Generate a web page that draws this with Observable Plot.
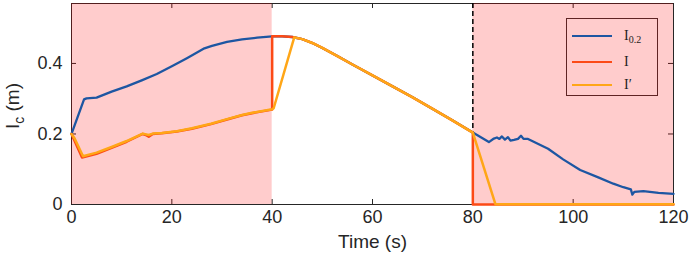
<!DOCTYPE html>
<html>
<head>
<meta charset="utf-8">
<script src="https://cdn.jsdelivr.net/npm/d3@7"></script>
<script src="https://cdn.jsdelivr.net/npm/@observablehq/plot@0.6"></script>
<style>
  html, body { margin: 0; padding: 0; background: white; }
  #wrap { position: relative; width: 692px; height: 265px; }
  #legend {
    position: absolute; left: 566px; top: 18px; width: 92px; height: 78px;
    border: 1px solid #5e2424; box-sizing: border-box;
    font-family: "Liberation Serif", "Times New Roman", serif; font-size: 14px; color: #222;
  }
  .item { position: absolute; left: 5px; height: 2px; width: 40px; }
  .lab { position: absolute; left: 57px; line-height: 1; }
  .lab sub { font-size: 10px; vertical-align: -3px; }
</style>
</head>
<body>
<div id="wrap"></div>
<script>
// ---- data ----
const xTicks = [0, 20, 40, 60, 80, 100, 120];
const yTicks = [0, 0.2, 0.4];
const shadeStart = [0, 80];
const shadeEnd = [40, 120];
const dashedAt = [80];

const seriesNames = ["I0.2", "I", "I′"];
const seriesColors = ["#1d56a2", "#fc4a16", "#ffa617"];

const tBlue = [0, 2.5, 3, 5, 8, 11, 14, 17, 20, 23, 26.5, 28, 31, 34, 37, 40, 42, 44, 46, 48, 50, 53, 56, 60, 64, 68, 72, 76, 80,
  83.2, 84.2, 84.8, 85.3, 85.8, 86.4, 87.0, 87.5, 88.2, 89.0, 89.6, 90.1, 91, 95, 98, 101.4, 105, 108, 110, 111.5, 111.8, 112.2, 114, 117, 120];
const vBlue = [0.2, 0.298, 0.301, 0.303, 0.32, 0.335, 0.352, 0.37, 0.392, 0.415, 0.443, 0.45, 0.461, 0.468, 0.473, 0.477, 0.477, 0.475, 0.469, 0.458, 0.444, 0.421, 0.397, 0.366, 0.335, 0.304, 0.271, 0.238, 0.204,
  0.177, 0.187, 0.19, 0.186, 0.193, 0.184, 0.191, 0.181, 0.183, 0.186, 0.195, 0.186, 0.186, 0.158, 0.128, 0.098, 0.077, 0.059, 0.049, 0.043, 0.028, 0.036, 0.038, 0.033, 0.030];

const tRed = [0, 2.1, 5, 8, 11, 14.2, 14.8, 15.4, 16.2, 18, 21, 24, 27.8, 31, 34, 36, 40, 40, 42, 44, 46, 48, 50, 53, 56, 60, 64, 68, 72, 76, 80, 80, 90, 100, 120];
const vRed = [0.2, 0.133, 0.144, 0.161, 0.178, 0.2, 0.197, 0.192, 0.2, 0.202, 0.207, 0.215, 0.228, 0.241, 0.253, 0.259, 0.269, 0.477, 0.477, 0.475, 0.469, 0.458, 0.444, 0.421, 0.397, 0.366, 0.335, 0.304, 0.271, 0.238, 0.204, 0, 0, 0, 0];

const tYel = [0, 0.6, 2.3, 5, 8, 11, 14.2, 15.4, 16.2, 18, 21, 24, 27.8, 31, 34, 36, 40, 40.3, 44.4, 46, 48, 50, 53, 56, 60, 64, 68, 72, 76, 80, 84.5, 90, 100, 120];
const vYel = [0.2, 0.188, 0.137, 0.147, 0.163, 0.18, 0.201, 0.197, 0.201, 0.203, 0.208, 0.216, 0.229, 0.242, 0.254, 0.26, 0.27, 0.273, 0.474, 0.469, 0.458, 0.444, 0.421, 0.397, 0.366, 0.335, 0.304, 0.271, 0.238, 0.204, 0.001, 0.001, 0.001, 0.001];

// ---- build ----
const toRows = (ts, vs) => ts.map((t, i) => ({t, v: vs[i]}));
const shades = shadeStart.map((s, i) => ({x1: s, x2: shadeEnd[i]}));

const W = 692, H = 265, mL = 71, mR = 19, mT = 3, mB = 61;
const pw = W - mL - mR, ph = H - mT - mB, tk = 5;
const axisColor = "#262626";

const chart = Plot.plot({
  width: W, height: H,
  marginLeft: mL, marginRight: mR, marginTop: mT, marginBottom: mB,
  x: {domain: [0, 120]},
  y: {domain: [0, 0.57]},
  style: {fontFamily: "'Liberation Sans', Arial, sans-serif", fontSize: "18px", color: axisColor, background: "white"},
  marks: [
    Plot.axisX({ticks: xTicks, tickSize: 0, tickPadding: 6, label: null, fill: axisColor}),
    Plot.axisY({ticks: yTicks, tickSize: 0, tickPadding: 9, label: null, fill: axisColor, tickFormat: d => d === 0 ? "0" : String(d)}),
    Plot.tickX(xTicks, {x: d => d, insetTop: ph - tk, stroke: axisColor}),
    Plot.tickX(xTicks, {x: d => d, insetBottom: ph - tk, stroke: axisColor}),
    Plot.tickY(yTicks, {y: d => d, insetRight: pw - tk, stroke: axisColor}),
    Plot.tickY(yTicks, {y: d => d, insetLeft: pw - tk, stroke: axisColor}),
    Plot.frame({stroke: axisColor}),
    Plot.rect(shades, {x1: "x1", x2: "x2", fill: "red", fillOpacity: 0.2}),
    Plot.ruleX(dashedAt, {x: d => d, stroke: "black", strokeWidth: 1.5, strokeDasharray: "5,3"}),
    Plot.line(toRows(tBlue, vBlue), {x: "t", y: "v", stroke: seriesColors[0], strokeWidth: 2.3}),
    Plot.line(toRows(tRed, vRed), {x: "t", y: "v", stroke: seriesColors[1], strokeWidth: 2.5}),
    Plot.line(toRows(tYel, vYel), {x: "t", y: "v", stroke: seriesColors[2], strokeWidth: 2.5}),
    Plot.text(["Time (s)"], {frameAnchor: "bottom", dy: 43, fontSize: 19, fill: axisColor})
  ]
});

const wrap = document.getElementById("wrap");
wrap.appendChild(chart);

// y-axis label with subscript
const svg = d3.select(chart);
const yl = svg.append("text")
  .attr("transform", "translate(19,106) rotate(-90)")
  .attr("text-anchor", "middle")
  .attr("fill", axisColor)
  .attr("font-size", 19)
  .attr("font-family", "'Liberation Sans', Arial, sans-serif");
yl.append("tspan").text("I");
yl.append("tspan").attr("font-size", 14).attr("dy", 5).text("c");
yl.append("tspan").attr("dy", -5).text(" (m)");

// legend
const legend = document.createElement("div");
legend.id = "legend";
const rowsY = [17, 43, 66];
seriesNames.forEach((name, i) => {
  const ln = document.createElement("div");
  ln.className = "item";
  ln.style.top = (rowsY[i] - 1) + "px";
  ln.style.background = seriesColors[i];
  legend.appendChild(ln);
  const lab = document.createElement("div");
  lab.className = "lab";
  lab.style.top = (rowsY[i] - 7) + "px";
  if (name === "I0.2") lab.innerHTML = "I<sub>0.2</sub>";
  else lab.textContent = name;
  legend.appendChild(lab);
});
wrap.appendChild(legend);
</script>
</body>
</html>
